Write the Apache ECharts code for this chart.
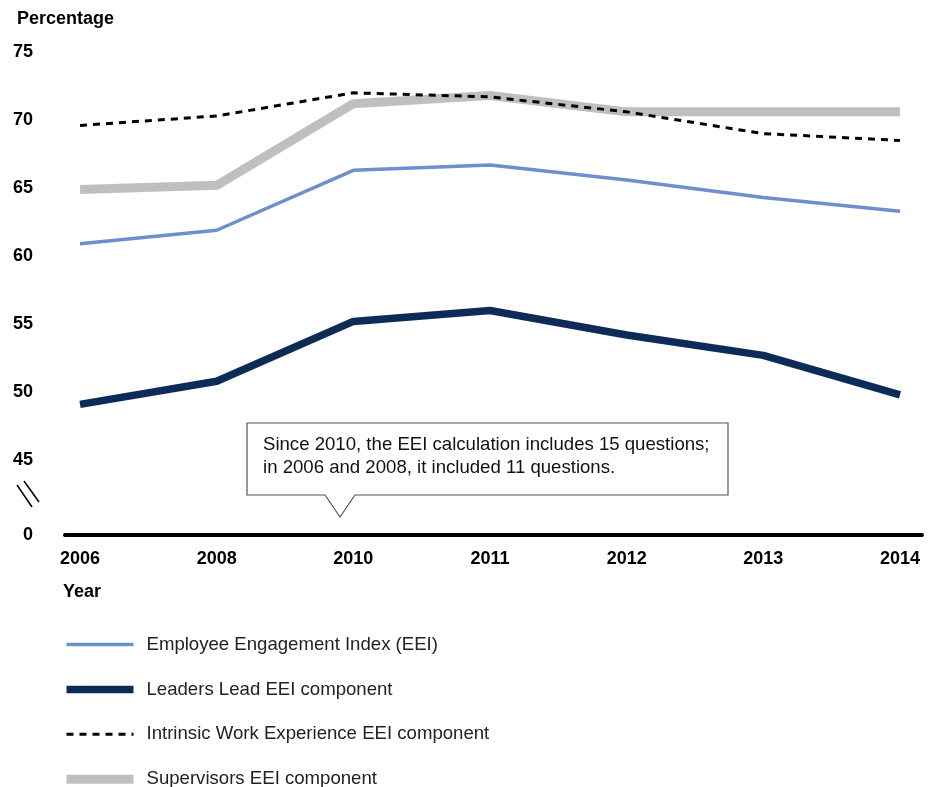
<!DOCTYPE html>
<html>
<head>
<meta charset="utf-8">
<script src="https://cdn.jsdelivr.net/npm/echarts@6/dist/echarts.min.js"></script>
<style>html,body{margin:0;padding:0;background:#fff}#c{width:946px;height:787px}</style>
</head>
<body>
<div id="c"></div>
<script>
const years = ['2006', '2008', '2010', '2011', '2012', '2013', '2014'];
const eei = [60.9, 61.9, 66.3, 66.7, 65.6, 64.3, 63.3];
const leadersLead = [49.1, 50.8, 55.2, 56.0, 54.2, 52.7, 49.8];
const intrinsic = [69.6, 70.3, 72.0, 71.7, 70.6, 69.0, 68.5];
const supervisors = [64.9, 65.2, 71.2, 71.8, 70.6, 70.6, 70.6];
const yTicks = [45, 50, 55, 60, 65, 70, 75];
const breakValue = 39.5;   // axis break: bottom of the axis stands for 0
const breakLabel = '0';
const note = ['Since 2010, the EEI calculation includes 15 questions;', 'in 2006 and 2008, it included 11 questions.'];

const font = 'Liberation Sans, Arial, sans-serif';
const toPairs = arr => arr.map((v, i) => [i, v]);

const chart = echarts.init(document.getElementById('c'));
chart.setOption({
  animation: false,
  backgroundColor: '#fff',
  textStyle: { fontFamily: font },
  title: [
    { text: 'Percentage', left: 12, top: 5, textStyle: { fontFamily: font, fontSize: 18, fontWeight: 'bold', color: '#000' } },
    { text: 'Year', left: 58, top: 578, textStyle: { fontFamily: font, fontSize: 18, fontWeight: 'bold', color: '#000' } }
  ],
  grid: { left: 65, right: 24, top: 52, bottom: 252, containLabel: false },
  xAxis: {
    type: 'value',
    min: -0.11,
    max: 6.161,
    axisLine: { show: true, lineStyle: { color: '#000', width: 4 } },
    axisTick: { show: false },
    splitLine: { show: false },
    axisLabel: {
      customValues: years.map((y, i) => i),
      formatter: v => years[Math.round(v)],
      margin: 15,
      fontFamily: font, fontSize: 18, fontWeight: 'bold', color: '#000'
    }
  },
  yAxis: {
    type: 'value',
    min: breakValue,
    max: 75,
    axisLine: { show: false },
    axisTick: { show: false },
    splitLine: { show: false },
    axisLabel: {
      customValues: [breakValue].concat(yTicks),
      formatter: v => (v === breakValue ? breakLabel : String(v)),
      margin: 32,
      fontFamily: font, fontSize: 18, fontWeight: 'bold', color: '#000'
    }
  },
  legend: {
    orient: 'vertical',
    left: 62,
    top: 635,
    height: 200,
    padding: 0,
    itemWidth: 67,
    itemHeight: 18,
    itemGap: 25.9,
    lineStyle: { width: 'inherit' },
    itemStyle: { opacity: 0 },
    textStyle: { fontFamily: font, fontSize: 18.6, color: '#222', padding: [0, 0, 0, 8] },
    data: ['Employee Engagement Index (EEI)', 'Leaders Lead EEI component', 'Intrinsic Work Experience EEI component', 'Supervisors EEI component']
  },
  series: [
    { name: 'Supervisors EEI component', type: 'line', data: toPairs(supervisors), symbol: 'none', z: 1,
      lineStyle: { color: '#bfbfc1', width: 9 }, itemStyle: { color: '#bfbfc1' } },
    { name: 'Intrinsic Work Experience EEI component', type: 'line', data: toPairs(intrinsic), symbol: 'none', z: 3,
      lineStyle: { color: '#000', width: 3, type: [7, 6] }, itemStyle: { color: '#000' } },
    { name: 'Employee Engagement Index (EEI)', type: 'line', data: toPairs(eei), symbol: 'none', z: 2,
      lineStyle: { color: '#6e8fcb', width: 3.5 }, itemStyle: { color: '#6e8fcb' } },
    { name: 'Leaders Lead EEI component', type: 'line', data: toPairs(leadersLead), symbol: 'none', z: 2,
      lineStyle: { color: '#0c2c57', width: 7.5 }, itemStyle: { color: '#0c2c57' } }
  ],
  graphic: [
    { type: 'polygon', shape: { points: [[247, 423], [728, 423], [728, 495], [355, 495], [340, 517], [325, 495], [247, 495]] },
      style: { fill: '#fff', stroke: '#555', lineWidth: 1.2 }, z: 10 },
    { type: 'text', left: 263, top: 433, z: 11,
      style: { text: note.join('\n'), font: '18.6px ' + font, fill: '#111', lineHeight: 23 } },
    { type: 'line', shape: { x1: 17, y1: 485, x2: 32, y2: 507 }, style: { stroke: '#000', lineWidth: 1.5 } },
    { type: 'line', shape: { x1: 24, y1: 481, x2: 39, y2: 502 }, style: { stroke: '#000', lineWidth: 1.5 } }
  ]
});
</script>
</body>
</html>
